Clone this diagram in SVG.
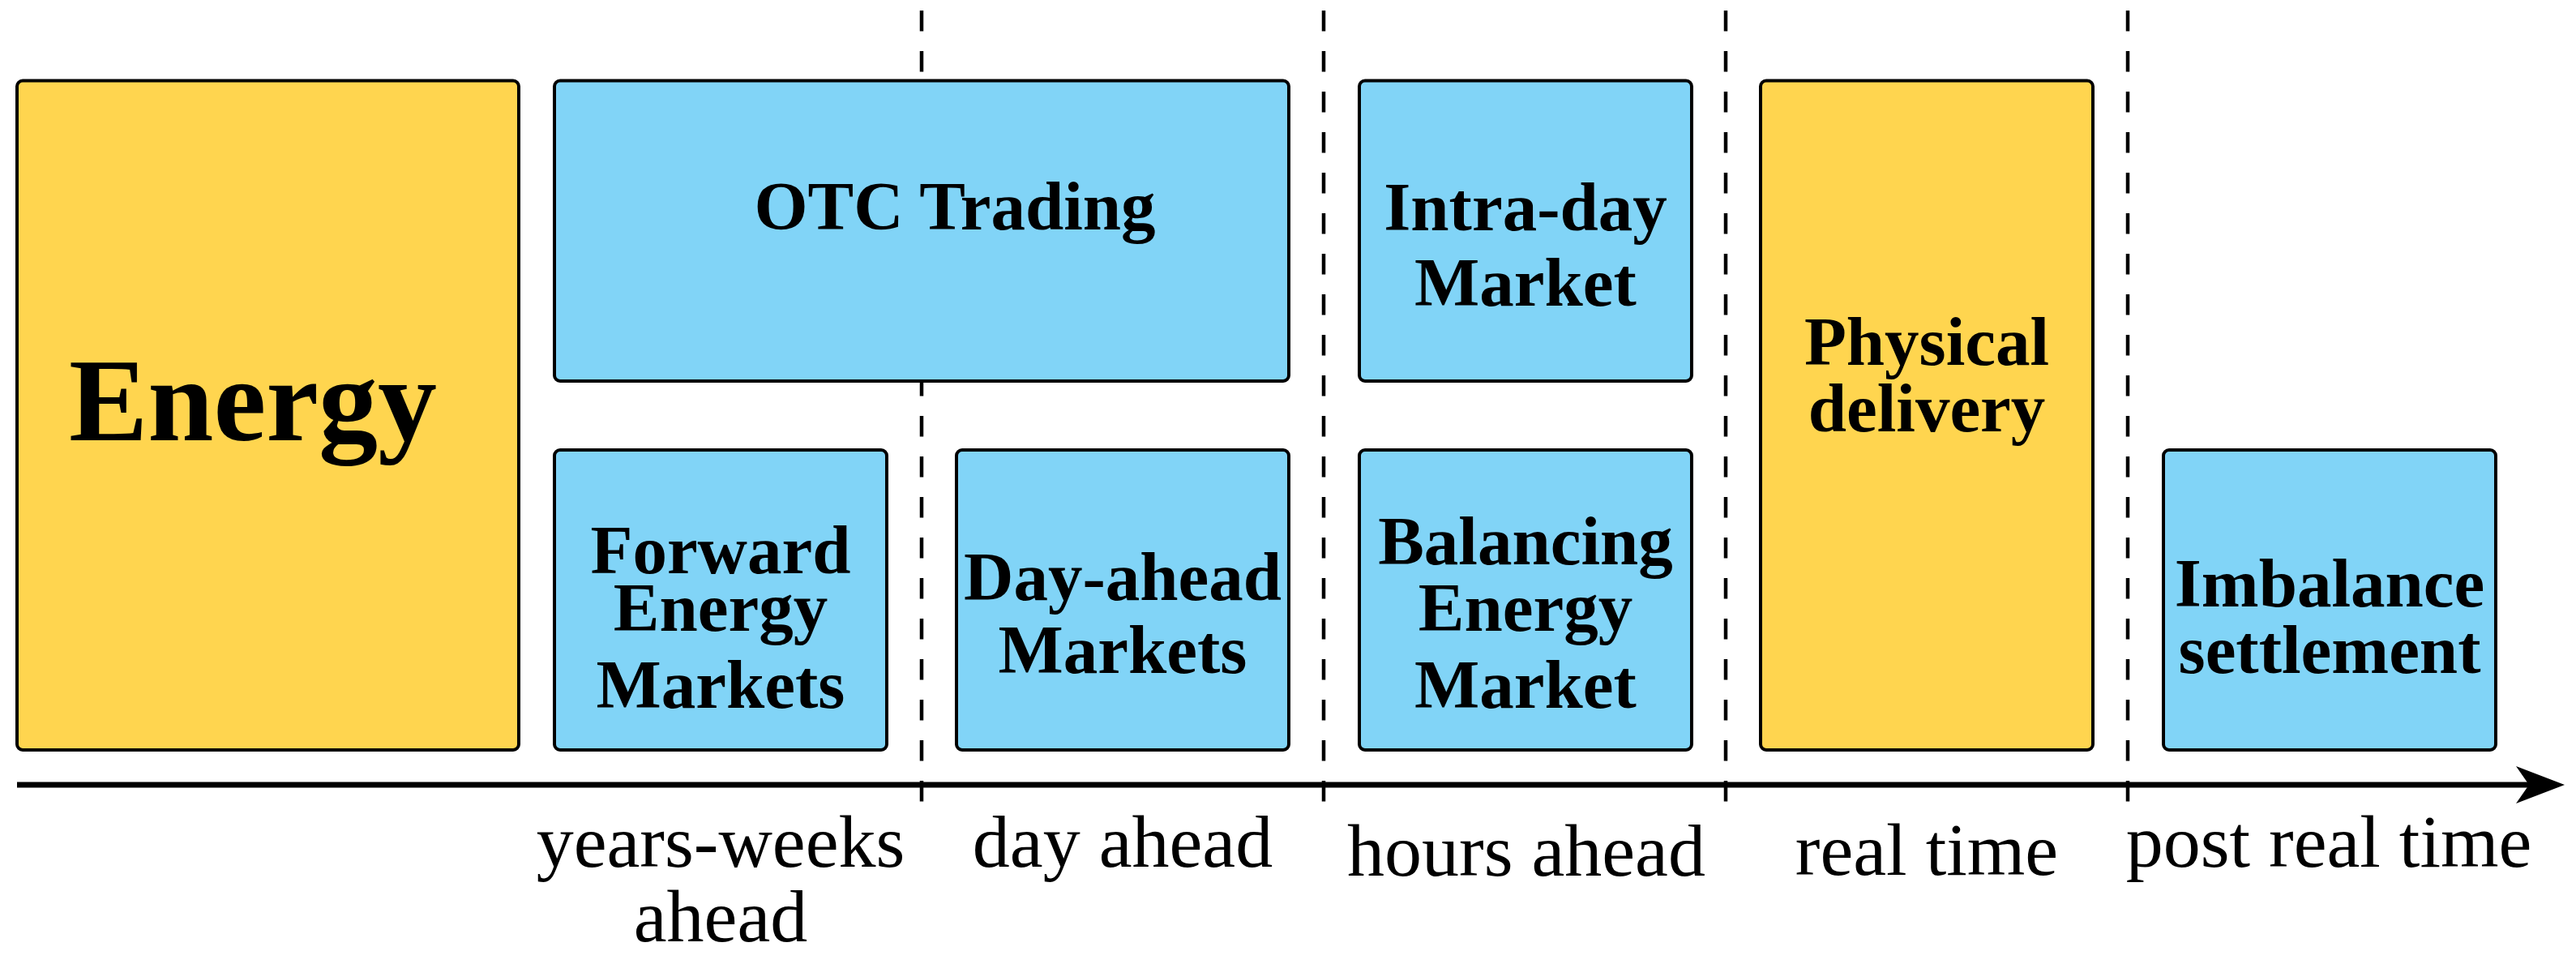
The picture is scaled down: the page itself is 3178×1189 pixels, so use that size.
<svg xmlns="http://www.w3.org/2000/svg" width="3178" height="1189" viewBox="0 0 3178 1189">
  <style>
    .box { stroke: #000; stroke-width: 4; }
    .yellow { fill: #FFD54F; }
    .blue { fill: #81D4F7; }
    .lbl { font-family: "Liberation Serif", "Times New Roman", serif; font-weight: bold; font-size: 85px; fill: #000; text-anchor: middle; }
    .big { font-size: 146px; }
    .axis { font-family: "Liberation Serif", "Times New Roman", serif; font-size: 92px; fill: #000; text-anchor: middle; }
    .dash { stroke: #000; stroke-width: 4.5; stroke-dasharray: 25.5 24.5; fill: none; }
    .axisline { stroke: #000; stroke-width: 7; fill: none; }
  </style>
  <defs>
    <marker id="arrow" viewBox="0 0 60 46" refX="26" refY="23" markerWidth="60" markerHeight="46" markerUnits="userSpaceOnUse" orient="auto">
      <path d="M0,0 L60,23 L0,46 L16,23 Z" fill="#000"/>
    </marker>
  </defs>
  <rect width="3178" height="1189" fill="#fff"/>

  <g id="connectors">
    <line class="dash" x1="1137" y1="13" x2="1137" y2="990"/>
    <line class="dash" x1="1633" y1="13" x2="1633" y2="990"/>
    <line class="dash" x1="2129" y1="13" x2="2129" y2="990"/>
    <line class="dash" x1="2625" y1="13" x2="2625" y2="990"/>
    <line class="axisline" x1="21" y1="968" x2="3130" y2="968" marker-end="url(#arrow)"/>
  </g>

  <g id="energy">
    <rect class="box yellow" x="21" y="99.5" width="619" height="825.5" rx="7"/>
    <text class="lbl big" x="312" y="543">Energy</text>
  </g>
  <g id="otc-trading">
    <rect class="box blue" x="684" y="99.5" width="906" height="370.5" rx="7"/>
    <text class="lbl" x="1178" y="283">OTC Trading</text>
  </g>
  <g id="intra-day-market">
    <rect class="box blue" x="1677" y="99.5" width="410" height="370.5" rx="7"/>
    <text class="lbl" x="1882" y="284">Intra-day</text>
    <text class="lbl" x="1882" y="377">Market</text>
  </g>
  <g id="physical-delivery">
    <rect class="box yellow" x="2172" y="99.5" width="410" height="825.5" rx="7"/>
    <text class="lbl" x="2377" y="450">Physical</text>
    <text class="lbl" x="2377" y="532">delivery</text>
  </g>
  <g id="forward-energy-markets">
    <rect class="box blue" x="684" y="555" width="410" height="370" rx="7"/>
    <text class="lbl" x="889" y="707">Forward</text>
    <text class="lbl" x="889" y="778">Energy</text>
    <text class="lbl" x="889" y="873">Markets</text>
  </g>
  <g id="day-ahead-markets">
    <rect class="box blue" x="1180" y="555" width="410" height="370" rx="7"/>
    <text class="lbl" x="1385" y="740">Day-ahead</text>
    <text class="lbl" x="1385" y="830">Markets</text>
  </g>
  <g id="balancing-energy-market">
    <rect class="box blue" x="1677" y="555" width="410" height="370" rx="7"/>
    <text class="lbl" x="1882" y="696">Balancing</text>
    <text class="lbl" x="1882" y="778">Energy</text>
    <text class="lbl" x="1882" y="873">Market</text>
  </g>
  <g id="imbalance-settlement">
    <rect class="box blue" x="2669" y="555" width="410" height="370" rx="7"/>
    <text class="lbl" x="2874" y="748">Imbalance</text>
    <text class="lbl" x="2874" y="830">settlement</text>
  </g>

  <g id="axis-labels">
    <text class="axis" x="889" y="1069">years-weeks</text>
    <text class="axis" x="889" y="1161">ahead</text>
    <text class="axis" x="1385" y="1069">day ahead</text>
    <text class="axis" x="1883" y="1080">hours ahead</text>
    <text class="axis" x="2377" y="1079">real time</text>
    <text class="axis" x="2873" y="1069">post real time</text>
  </g>
</svg>
